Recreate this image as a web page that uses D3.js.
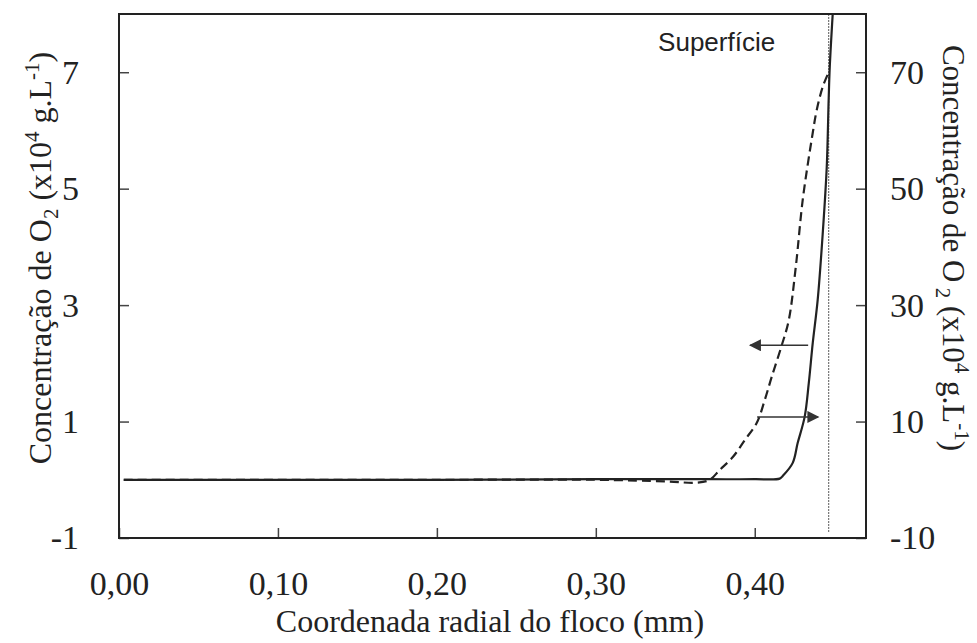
<!DOCTYPE html>
<html>
<head>
<meta charset="utf-8">
<script src="https://cdn.jsdelivr.net/npm/d3@7"></script>
<style>
  body { margin: 0; background: #fff; }
  text { font-family: "Liberation Serif", "Times New Roman", serif; fill: #222; }
</style>
</head>
<body>
<script>
// Perfil de O2 ao longo do raio do floco

const xTicks = [0, 0.1, 0.2, 0.3, 0.4];
const leftTicks = [-1, 1, 3, 5, 7];
const rightTicks = [-10, 10, 30, 50, 70];

// curva tracejada -> eixo da esquerda (x10^4 g/L)
const dashX = [0.003, 0.10, 0.20, 0.30, 0.345, 0.3635, 0.3717, 0.378, 0.3862, 0.3937, 0.4013, 0.4063,
               0.4107, 0.417, 0.4214, 0.4258, 0.4302, 0.4365, 0.439, 0.4428, 0.4465];
const dashY = [0, 0, 0, 0, -0.03, -0.05, 0.0, 0.17, 0.39, 0.68, 0.98, 1.37,
               1.77, 2.31, 2.74, 3.65, 4.81, 5.96, 6.35, 6.75, 7.0];

// curva continua -> eixo da direita (x10^4 g/L)
const solidX = [0.003, 0.10, 0.20, 0.30, 0.37, 0.40, 0.4157, 0.4176, 0.4239, 0.427, 0.4314, 0.434,
                0.4365, 0.4396, 0.4428, 0.4453, 0.4465, 0.4472, 0.4495];
const solidY = [0, 0, 0, 0.1, 0.1, 0.1, 0.2, 0.65, 2.9, 6.3, 10.8, 16.6,
                23.5, 30.9, 42.4, 53.7, 65.2, 70.9, 82];

// superficie do floco
const surfaceX = 0.4465;

// setas (nivel no eixo da esquerda)
const arrowFrom = [0.4336, 0.4015];
const arrowTo = [0.3971, 0.4399];
const arrowLevel = [2.31, 1.08];

const W = 977, H = 643;
const margin = { top: 14, right: 111, bottom: 105, left: 119 },
      width = W - margin.left - margin.right,
      height = H - margin.top - margin.bottom;

const svg = d3.select("body").append("svg")
    .attr("width", W)
    .attr("height", H);

const defs = svg.append("defs");
defs.append("clipPath").attr("id", "plot")
    .append("rect").attr("width", width).attr("height", height);
defs.append("marker")
    .attr("id", "head")
    .attr("viewBox", "0 0 10 10")
    .attr("refX", 9).attr("refY", 5)
    .attr("markerWidth", 16).attr("markerHeight", 12)
    .attr("markerUnits", "userSpaceOnUse")
    .attr("orient", "auto")
    .append("path")
    .attr("d", "M0,0 L10,5 L0,10 Z")
    .attr("fill", "#333");

const g = svg.append("g")
    .attr("transform", `translate(${margin.left},${margin.top})`);

const x = d3.scaleLinear().domain([0, 0.47]).range([0, width]);
const yL = d3.scaleLinear().domain([-1, 8]).range([height, 0]);
const yR = d3.scaleLinear().domain([-10, 80]).range([height, 0]);

const fmt = d => d3.format(".2f")(d).replace(".", ",");

// eixos
const ax = g.append("g")
    .attr("transform", `translate(0,${height})`)
    .call(d3.axisBottom(x).tickValues(xTicks).tickFormat(fmt)
        .tickSizeInner(-10).tickSizeOuter(0).tickPadding(33));

const al = g.append("g")
    .call(d3.axisLeft(yL).tickValues(leftTicks).tickFormat(d => String(d))
        .tickSizeInner(-10).tickSizeOuter(0).tickPadding(40));

const ar = g.append("g")
    .attr("transform", `translate(${width},0)`)
    .call(d3.axisRight(yR).tickValues(rightTicks).tickFormat(d => String(d))
        .tickSizeInner(-10).tickSizeOuter(0).tickPadding(24));

[ax, al, ar].forEach(a => {
  a.select(".domain").remove();
  a.selectAll(".tick line").attr("stroke", "#444").attr("stroke-width", 1.5);
  a.selectAll(".tick text")
      .style("font-family", '"Liberation Serif", serif')
      .style("font-size", "34px")
      .attr("fill", "#222");
});

// linha da superficie
g.append("line")
    .attr("x1", x(surfaceX)).attr("x2", x(surfaceX))
    .attr("y1", 0).attr("y2", yL(-0.9))
    .attr("stroke", "#777")
    .attr("stroke-width", 1.2)
    .attr("stroke-dasharray", "2,1");

g.append("text")
    .attr("x", x(0.3392))
    .attr("y", 37)
    .style("font-family", '"Liberation Sans", Arial, sans-serif')
    .style("font-size", "26px")
    .text("Superfície");

const plot = g.append("g").attr("clip-path", "url(#plot)");

const lineL = d3.line()
    .x(i => x(dashX[i])).y(i => yL(dashY[i]))
    .curve(d3.curveCatmullRom.alpha(0.5));
const lineR = d3.line()
    .x(i => x(solidX[i])).y(i => yR(solidY[i]))
    .curve(d3.curveCatmullRom.alpha(0.5));

plot.append("path")
    .datum(d3.range(solidX.length))
    .attr("d", lineR)
    .attr("fill", "none")
    .attr("stroke", "#222")
    .attr("stroke-width", 2.2);

plot.append("path")
    .datum(d3.range(dashX.length))
    .attr("d", lineL)
    .attr("fill", "none")
    .attr("stroke", "#222")
    .attr("stroke-width", 2.2)
    .attr("stroke-dasharray", "9,5");

// setas
g.selectAll(".arrow")
    .data(d3.range(arrowFrom.length))
    .enter().append("line")
    .attr("class", "arrow")
    .attr("x1", i => x(arrowFrom[i]))
    .attr("x2", i => x(arrowTo[i]))
    .attr("y1", i => yL(arrowLevel[i]))
    .attr("y2", i => yL(arrowLevel[i]))
    .attr("stroke", "#333")
    .attr("stroke-width", 1.5)
    .attr("marker-end", "url(#head)");

// moldura
g.append("rect")
    .attr("width", width).attr("height", height)
    .attr("fill", "none")
    .attr("stroke", "#222")
    .attr("stroke-width", 2);

// titulos
svg.append("text")
    .attr("x", 490)
    .attr("y", 632)
    .attr("text-anchor", "middle")
    .style("font-size", "32px")
    .text("Coordenada radial do floco (mm)");

function title(sel, gap) {
  sel.append("tspan").text("Concentração de O");
  sel.append("tspan").attr("dy", 7).style("font-size", "21px").text(gap + "2");
  sel.append("tspan").attr("dy", -7).text(" (x10");
  sel.append("tspan").attr("dy", -12).style("font-size", "21px").text("4");
  sel.append("tspan").attr("dy", 12).text(" g.L");
  sel.append("tspan").attr("dy", -12).style("font-size", "21px").text("-1");
  sel.append("tspan").attr("dy", 12).text(")");
}

svg.append("text")
    .attr("transform", "translate(51,258) rotate(-90)")
    .attr("text-anchor", "middle")
    .style("font-size", "32px")
    .call(title, "");

svg.append("text")
    .attr("transform", "translate(943,248) rotate(90)")
    .attr("text-anchor", "middle")
    .style("font-size", "31px")
    .call(title, " ");
</script>
</body>
</html>
